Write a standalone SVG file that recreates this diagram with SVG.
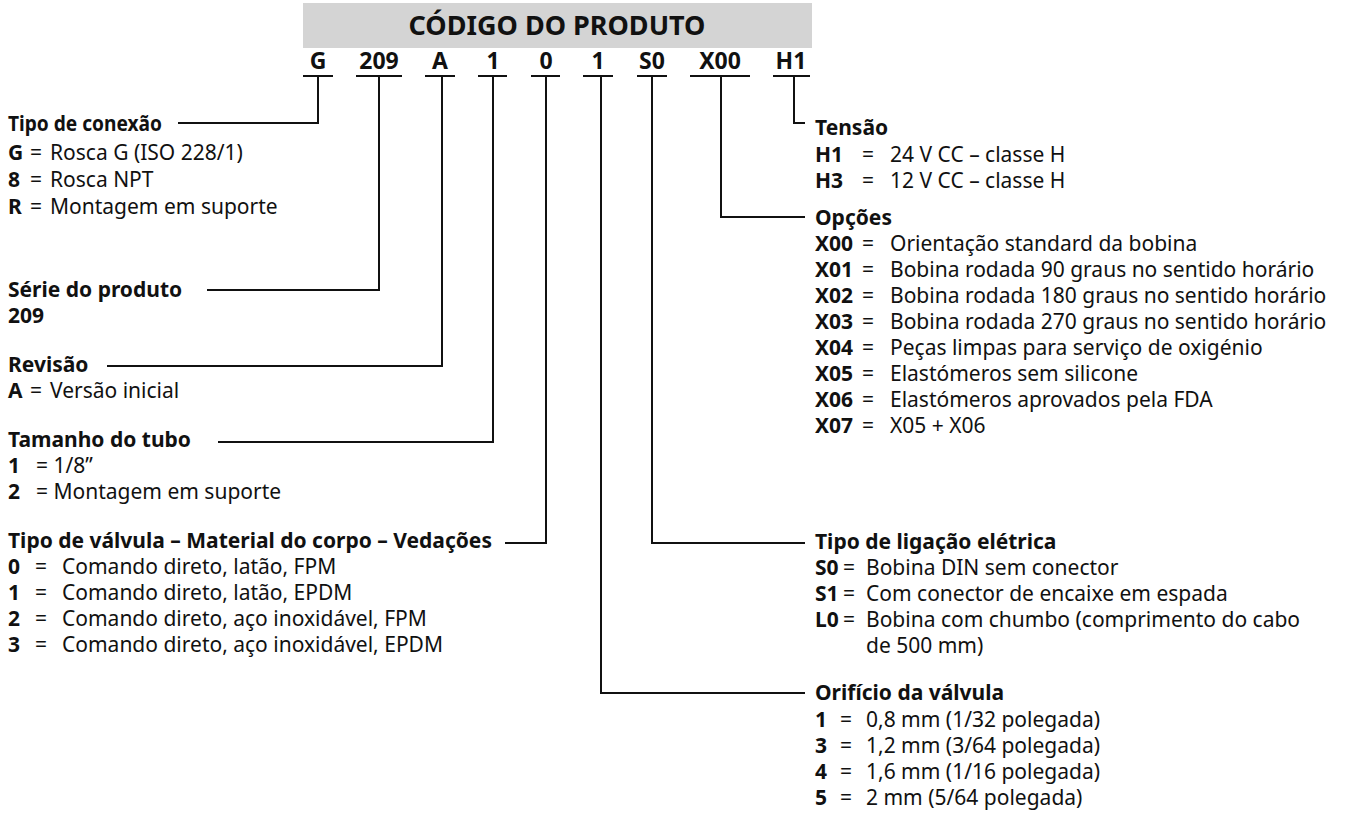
<svg xmlns="http://www.w3.org/2000/svg" width="1356" height="818" viewBox="0 0 1356 818">
<style>
text{font-family:"Noto Sans","Open Sans","Liberation Sans",sans-serif;fill:#111}
.h{font-weight:700;font-size:21px}
.b{font-size:21px}
.k{font-weight:700}
.code{font-weight:700;font-size:23px;text-anchor:middle}
.title{font-weight:700;font-size:27px;text-anchor:middle}
.ul{stroke:#111;stroke-width:2}
.c{fill:none;stroke:#111;stroke-width:2}
</style>
<rect width="1356" height="818" fill="#fff"/>
<g id="header">
<rect x="303" y="3" width="509" height="45" fill="#d4d4d4"/>
<text class="title" x="557" y="35">CÓDIGO DO PRODUTO</text>
</g>
<g id="code">
<text class="code" x="318" y="69">G</text>
<text class="code" x="379" y="69">209</text>
<text class="code" x="440" y="69">A</text>
<text class="code" x="493" y="69">1</text>
<text class="code" x="546" y="69">0</text>
<text class="code" x="598" y="69">1</text>
<text class="code" x="652" y="69">S0</text>
<text class="code" x="720" y="69">X00</text>
<text class="code" x="791" y="69">H1</text>
<path class="ul" d="M303,76H333M356,76H402M425,76H455M478,76H507M531,76H560M583,76H613M637,76H667M690,76H750M773,76H810"/>
</g>
<g id="connectors">
<path class="c" d="M318,76V123H178"/>
<path class="c" d="M379,76V290H207"/>
<path class="c" d="M442,76V366H107"/>
<path class="c" d="M493,76V442H218"/>
<path class="c" d="M546,76V543H505"/>
<path class="c" d="M601,76V693H805"/>
<path class="c" d="M652,76V543H805"/>
<path class="c" d="M721,76V217H805"/>
<path class="c" d="M794,76V123H805"/>
</g>
<g id="tipo-conexao">
<text class="h" x="8" y="131" textLength="154" lengthAdjust="spacingAndGlyphs">Tipo de conexão</text>
<text class="b" x="8" y="160"><tspan class="k">G</tspan><tspan x="30">=</tspan><tspan x="50">Rosca G (ISO 228/1)</tspan></text>
<text class="b" x="8" y="187"><tspan class="k">8</tspan><tspan x="30">=</tspan><tspan x="50">Rosca NPT</tspan></text>
<text class="b" x="8" y="214"><tspan class="k">R</tspan><tspan x="30">=</tspan><tspan x="50">Montagem em suporte</tspan></text>
</g>
<g id="serie">
<text class="h" x="8" y="297">Série do produto</text>
<text class="h" x="8" y="323">209</text>
</g>
<g id="revisao">
<text class="h" x="8" y="372">Revisão</text>
<text class="b" x="8" y="398"><tspan class="k">A</tspan><tspan x="30">=</tspan><tspan x="50">Versão inicial</tspan></text>
</g>
<g id="tamanho">
<text class="h" x="8" y="447">Tamanho do tubo</text>
<text class="b" x="8" y="473"><tspan class="k">1</tspan><tspan x="36">= 1/8”</tspan></text>
<text class="b" x="8" y="499"><tspan class="k">2</tspan><tspan x="36">= Montagem em suporte</tspan></text>
</g>
<g id="valvula">
<text class="h" x="8" y="548">Tipo de válvula – Material do corpo – Vedações</text>
<text class="b" x="8" y="574"><tspan class="k">0</tspan><tspan x="35">=</tspan><tspan x="62">Comando direto, latão, FPM</tspan></text>
<text class="b" x="8" y="600"><tspan class="k">1</tspan><tspan x="35">=</tspan><tspan x="62">Comando direto, latão, EPDM</tspan></text>
<text class="b" x="8" y="626"><tspan class="k">2</tspan><tspan x="35">=</tspan><tspan x="62">Comando direto, aço inoxidável, FPM</tspan></text>
<text class="b" x="8" y="652"><tspan class="k">3</tspan><tspan x="35">=</tspan><tspan x="62">Comando direto, aço inoxidável, EPDM</tspan></text>
</g>
<g id="tensao">
<text class="h" x="815" y="135">Tensão</text>
<text class="b" x="815" y="162"><tspan class="k">H1</tspan><tspan x="862">=</tspan><tspan x="890">24 V CC – classe H</tspan></text>
<text class="b" x="815" y="188"><tspan class="k">H3</tspan><tspan x="862">=</tspan><tspan x="890">12 V CC – classe H</tspan></text>
</g>
<g id="opcoes">
<text class="h" x="815" y="225">Opções</text>
<text class="b" x="815" y="251"><tspan class="k">X00</tspan><tspan x="862">=</tspan><tspan x="890">Orientação standard da bobina</tspan></text>
<text class="b" x="815" y="277"><tspan class="k">X01</tspan><tspan x="862">=</tspan><tspan x="890">Bobina rodada 90 graus no sentido horário</tspan></text>
<text class="b" x="815" y="303"><tspan class="k">X02</tspan><tspan x="862">=</tspan><tspan x="890">Bobina rodada 180 graus no sentido horário</tspan></text>
<text class="b" x="815" y="329"><tspan class="k">X03</tspan><tspan x="862">=</tspan><tspan x="890">Bobina rodada 270 graus no sentido horário</tspan></text>
<text class="b" x="815" y="355"><tspan class="k">X04</tspan><tspan x="862">=</tspan><tspan x="890">Peças limpas para serviço de oxigénio</tspan></text>
<text class="b" x="815" y="381"><tspan class="k">X05</tspan><tspan x="862">=</tspan><tspan x="890">Elastómeros sem silicone</tspan></text>
<text class="b" x="815" y="407"><tspan class="k">X06</tspan><tspan x="862">=</tspan><tspan x="890">Elastómeros aprovados pela FDA</tspan></text>
<text class="b" x="815" y="433"><tspan class="k">X07</tspan><tspan x="862">=</tspan><tspan x="890">X05 + X06</tspan></text>
</g>
<g id="ligacao">
<text class="h" x="815" y="549">Tipo de ligação elétrica</text>
<text class="b" x="815" y="575"><tspan class="k">S0</tspan><tspan x="843">=</tspan><tspan x="866">Bobina DIN sem conector</tspan></text>
<text class="b" x="815" y="601"><tspan class="k">S1</tspan><tspan x="843">=</tspan><tspan x="866">Com conector de encaixe em espada</tspan></text>
<text class="b" x="815" y="627"><tspan class="k">L0</tspan><tspan x="843">=</tspan><tspan x="866">Bobina com chumbo (comprimento do cabo</tspan></text>
<text class="b" x="866" y="653">de 500 mm)</text>
</g>
<g id="orificio">
<text class="h" x="815" y="700">Orifício da válvula</text>
<text class="b" x="815" y="727"><tspan class="k">1</tspan><tspan x="840">=</tspan><tspan x="866">0,8 mm (1/32 polegada)</tspan></text>
<text class="b" x="815" y="753"><tspan class="k">3</tspan><tspan x="840">=</tspan><tspan x="866">1,2 mm (3/64 polegada)</tspan></text>
<text class="b" x="815" y="779"><tspan class="k">4</tspan><tspan x="840">=</tspan><tspan x="866">1,6 mm (1/16 polegada)</tspan></text>
<text class="b" x="815" y="805"><tspan class="k">5</tspan><tspan x="840">=</tspan><tspan x="866">2 mm (5/64 polegada)</tspan></text>
</g>
</svg>
